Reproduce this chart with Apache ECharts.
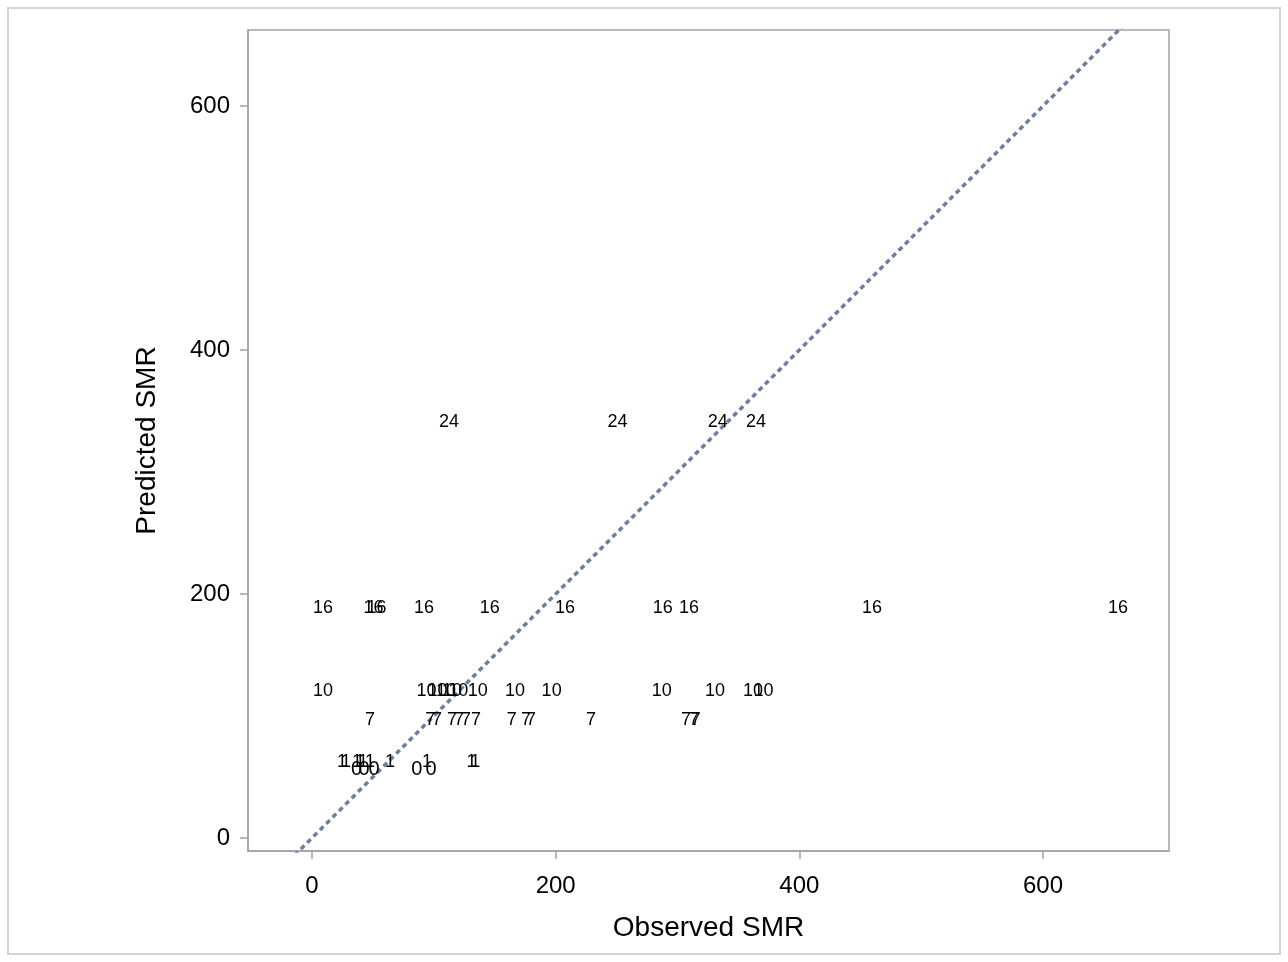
<!DOCTYPE html>
<html><head><meta charset="utf-8">
<script src="https://cdn.jsdelivr.net/npm/echarts@6/dist/echarts.min.js"></script>
<style>html,body{margin:0;padding:0;background:#fff}#c{width:1288px;height:962px}</style>
</head><body><div id="c"></div>
<script>
const xTicks = [0, 200, 400, 600];
const yTicks = [0, 200, 400, 600];
const groupLabels = ['24', '16', '10', '7', '1', '0'];
const predicted = [341, 188.5, 120.5, 96.5, 62.5, 56.5];
const obs24 = [112.4, 250.7, 333, 364.4];
const obs16 = [9, 50.5, 53, 92, 146, 207.7, 288, 309.5, 459.6, 661.6];
const obs10 = [9, 94, 103, 110, 115, 120, 136, 166.6, 196.7, 287, 330.8, 362, 370.5];
const obs7 = [47.6, 97, 102.6, 115, 120.7, 126.4, 134.6, 164, 175.6, 179.8, 229, 307, 313.5, 315];
const obs1 = [24.6, 27.9, 36.9, 39.4, 41.9, 47.6, 64, 94.4, 131, 134];
const obs0 = [36.7, 42.7, 50.9, 86, 97.7];
const observedGroups = [obs24, obs16, obs10, obs7, obs1, obs0];
const diagonal = [-30, 720];

const FONT = '"Liberation Sans", Arial, sans-serif';
const chart = echarts.init(document.getElementById('c'), null, {renderer: 'canvas'});

const labelSeries = observedGroups.map((arr, i) => ({
  type: 'custom',
  silent: true,
  z: 3,
  data: arr.map(x => [x, predicted[i]]),
  renderItem: function (params, api) {
    const p = api.coord([api.value(0), api.value(1)]);
    const size = groupLabels[i] === '0' ? 20 : 18;
    return {
      type: 'text',
      x: p[0], y: p[1],
      style: {
        text: groupLabels[i],
        fill: '#000',
        font: size + 'px ' + FONT,
        align: 'center',
        verticalAlign: 'middle'
      }
    };
  }
}));

const axisCommon = {
  type: 'value',
  splitLine: {show: false},
  axisLine: {show: true, onZero: false, lineStyle: {color: '#a0a4a8', width: 1.5}},
  axisTick: {show: true, length: 8, lineStyle: {color: '#a0a4a8', width: 1.5}},
  nameLocation: 'middle',
  nameTextStyle: {fontFamily: FONT, fontSize: 28, color: '#000'}
};

chart.setOption({
  animation: false,
  backgroundColor: '#fff',
  graphic: [{
    type: 'rect',
    shape: {x: 8, y: 8, width: 1272, height: 946},
    style: {fill: 'none', stroke: '#d4d4d4', lineWidth: 2},
    silent: true
  }],
  grid: {left: 248, right: 119, top: 30, bottom: 111, show: true, borderColor: '#a0a4a8', borderWidth: 1.5},
  xAxis: Object.assign({}, axisCommon, {
    min: -52.5, max: 703.4,
    name: 'Observed SMR', nameGap: 63,
    axisTick: Object.assign({}, axisCommon.axisTick, {customValues: xTicks}),
    axisLabel: {customValues: xTicks, margin: 23, fontFamily: FONT, fontSize: 24, color: '#000'}
  }),
  yAxis: Object.assign({}, axisCommon, {
    min: -10.66, max: 662.3,
    name: 'Predicted SMR', nameGap: 87,
    axisTick: Object.assign({}, axisCommon.axisTick, {customValues: yTicks}),
    axisLabel: {customValues: yTicks, margin: 18, fontFamily: FONT, fontSize: 24, color: '#000'}
  }),
  series: [{
    type: 'line',
    data: diagonal.map(v => [v, v]),
    showSymbol: false,
    silent: true,
    clip: true,
    z: 2,
    lineStyle: {color: '#6b7ea5', width: 3.5, type: [5, 4]}
  }].concat(labelSeries)
});
</script></body></html>
